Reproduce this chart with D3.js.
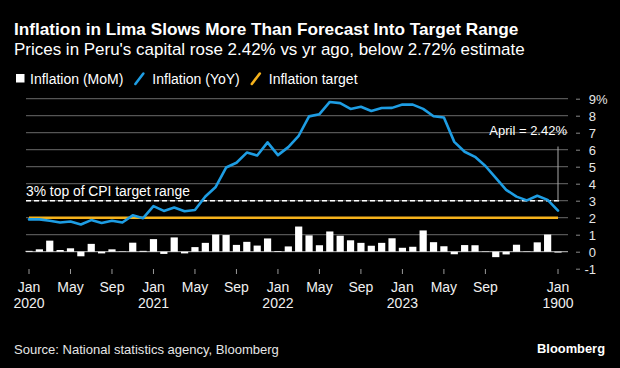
<!DOCTYPE html>
<html><head><meta charset="utf-8">
<script src="https://cdn.jsdelivr.net/npm/d3@7"></script>
<style>body{margin:0;background:#000}svg{display:block}</style>
</head><body>
<svg id="c" width="620" height="368"></svg>
<script>
// ---- data ----
const months = [
 "2020-01","2020-02","2020-03","2020-04","2020-05","2020-06","2020-07","2020-08","2020-09","2020-10","2020-11","2020-12",
 "2021-01","2021-02","2021-03","2021-04","2021-05","2021-06","2021-07","2021-08","2021-09","2021-10","2021-11","2021-12",
 "2022-01","2022-02","2022-03","2022-04","2022-05","2022-06","2022-07","2022-08","2022-09","2022-10","2022-11","2022-12",
 "2023-01","2023-02","2023-03","2023-04","2023-05","2023-06","2023-07","2023-08","2023-09","2023-10","2023-11","2023-12",
 "2024-01","2024-02","2024-03","2024-04"];
const yoy = [
 1.90,1.90,1.82,1.72,1.78,1.60,1.86,1.69,1.82,1.72,2.14,1.97,
 2.68,2.40,2.60,2.38,2.45,3.25,3.81,4.95,5.23,5.83,5.66,6.43,
 5.68,6.15,6.82,7.96,8.09,8.81,8.74,8.40,8.53,8.28,8.45,8.46,
 8.66,8.65,8.40,7.97,7.89,6.46,5.88,5.58,5.04,4.34,3.64,3.24,
 3.02,3.29,3.05,2.42];
const mom = [
 0.05,0.14,0.65,0.10,0.20,-0.27,0.46,-0.10,0.14,0.02,0.53,0.05,
 0.74,-0.13,0.84,-0.10,0.27,0.52,1.01,0.98,0.40,0.58,0.36,0.78,
 0.04,0.31,1.48,0.96,0.38,1.19,0.94,0.67,0.52,0.35,0.52,0.79,
 0.23,0.29,1.25,0.56,0.32,-0.15,0.39,0.38,0.02,-0.32,-0.16,0.41,
 0.02,0.55,1.01,-0.05];
const targetValue = 2;
const rangeTopValue = 3;
const yTickValues = [-1,0,1,2,3,4,5,6,7,8,9];
const xTickMonths = ["2020-01","2020-05","2020-09","2021-01","2021-05","2021-09","2022-01","2022-05","2022-09","2023-01","2023-05","2023-09","2024-04"];
const xTickLabels = ["Jan","May","Sep","Jan","May","Sep","Jan","May","Sep","Jan","May","Sep","Jan"];
const xTickYears  = ["2020","","","2021","","","2022","","","2023","","","1900"];
const legendLabels = ["Inflation (MoM)","Inflation (YoY)","Inflation target"];

// ---- drawing ----
const FONT = "'Liberation Sans', Arial, Helvetica, sans-serif";
const BLUE = "#1e9de3", YELLOW = "#f5b21c", GRID = "#555";
const svg = d3.select("#c").style("font-family", FONT);
svg.append("rect").attr("width",620).attr("height",368).attr("fill","#000");

const x = d3.scalePoint().domain(months).range([29, 558]);
const y = d3.scaleLinear().domain([-1, 9]).range([268.7, 98.7]);
const gridX0 = 26, gridX1 = 568;

function fit(sel, w){
  const l = sel.node().getComputedTextLength();
  const fs = parseFloat(sel.attr("font-size"));
  sel.attr("font-size", (fs*w/l).toFixed(2));
  return sel;
}

// title / subtitle
fit(svg.append("text").attr("x",14).attr("y",35).attr("fill","#fff").attr("font-weight","bold")
  .attr("font-size",17).text("Inflation in Lima Slows More Than Forecast Into Target Range"), 505);
fit(svg.append("text").attr("x",14).attr("y",55).attr("fill","#fff")
  .attr("font-size",16).text("Prices in Peru's capital rose 2.42% vs yr ago, below 2.72% estimate"), 511);

// legend
const lg = svg.append("g");
let lx = 16;
legendLabels.forEach((lab,i)=>{
  if(i===0){
    lg.append("rect").attr("x",lx).attr("y",74).attr("width",8.5).attr("height",8.5).attr("fill","#fff");
    lx += 14;
  } else {
    lg.append("line").attr("x1",lx+1).attr("y1",84).attr("x2",lx+9).attr("y2",73.5)
      .attr("stroke", i===1?BLUE:YELLOW).attr("stroke-width",2.6).attr("stroke-linecap","round");
    lx += 18;
  }
  const t = lg.append("text").attr("x",lx).attr("y",83.5).attr("fill","#fff").attr("font-size",14).text(lab);
  lx += t.node().getComputedTextLength() + 11;
});

// gridlines
svg.append("g").selectAll("line").data(yTickValues.filter(v=>v>=0)).join("line")
  .attr("x1",gridX0).attr("x2",gridX1).attr("y1",d=>y(d)).attr("y2",d=>y(d))
  .attr("stroke",d=>d===0?"#9a9a9a":GRID).attr("stroke-width",1.2);

// y axis (right)
const yAxis = d3.axisRight(y).tickValues(yTickValues).tickSize(4).tickPadding(0).tickFormat(d=>d);
const ya = svg.append("g").attr("transform","translate(576,0)").call(yAxis);
ya.select(".domain").remove();
ya.selectAll(".tick line").attr("stroke","#888");
ya.selectAll(".tick text").attr("x",20).attr("text-anchor","end").attr("fill","#e6e6e6")
  .attr("font-size",13).attr("font-family",FONT).attr("dy","0.36em");
ya.selectAll(".tick").filter(d=>d===9).append("text").attr("x",20).attr("dy","0.36em")
  .attr("fill","#e6e6e6").attr("font-size",13).attr("font-family",FONT).text("%");

// bars
svg.append("g").selectAll("rect").data(months.map((m,i)=>({m, v:mom[i]}))).join("rect")
  .attr("x",d=>x(d.m)-3.6).attr("width",7.2)
  .attr("y",d=>y(Math.max(0,d.v))).attr("height",d=>Math.abs(y(d.v)-y(0)))
  .attr("fill","#fff");

// target line
svg.append("line").attr("x1",x(months[0])).attr("x2",x(months[months.length-1]))
  .attr("y1",y(targetValue)).attr("y2",y(targetValue))
  .attr("stroke",YELLOW).attr("stroke-width",2.6);

// 3% dashed line
svg.append("line").attr("x1",gridX0).attr("x2",560)
  .attr("y1",y(rangeTopValue)).attr("y2",y(rangeTopValue))
  .attr("stroke","#fff").attr("stroke-width",1.5).attr("stroke-dasharray","5,3");
fit(svg.append("text").attr("x",gridX0).attr("y",y(rangeTopValue)-4.5).attr("fill","#fff")
  .attr("font-size",13).text("3% top of CPI target range"), 164);

// YoY line
svg.append("path").datum(months.map((m,i)=>({m, v:yoy[i]})))
  .attr("fill","none").attr("stroke",BLUE).attr("stroke-width",2.6)
  .attr("stroke-linejoin","round").attr("stroke-linecap","round")
  .attr("d", d3.line().x(d=>x(d.m)).y(d=>y(d.v)));

// annotation
const lastM = months[months.length-1];
svg.append("line").attr("x1",x(lastM)).attr("x2",x(lastM)).attr("y1",146.5).attr("y2",y(rangeTopValue))
  .attr("stroke","#aaa").attr("stroke-width",1);
svg.append("text").attr("x",567).attr("y",135).attr("text-anchor","end").attr("fill","#fff")
  .attr("font-size",13).text("April = " + yoy[yoy.length-1].toFixed(2) + "%");

// x axis
const xg = svg.append("g");
xTickMonths.forEach((m,i)=>{
  const px = x(m);
  xg.append("line").attr("x1",px).attr("x2",px).attr("y1",269).attr("y2",274).attr("stroke","#999").attr("stroke-width",1);
  xg.append("text").attr("x",px).attr("y",291.5).attr("text-anchor","middle").attr("fill","#f0f0f0")
    .attr("font-size",14).text(xTickLabels[i]);
  if(xTickYears[i]) xg.append("text").attr("x",px).attr("y",308).attr("text-anchor","middle").attr("fill","#f0f0f0")
    .attr("font-size",14).text(xTickYears[i]);
});

// footer
fit(svg.append("text").attr("x",14).attr("y",354).attr("fill","#e6e6e6")
  .attr("font-size",13.5).text("Source: National statistics agency, Bloomberg"), 265);
fit(svg.append("text").attr("x",605).attr("y",353).attr("text-anchor","end").attr("fill","#fff").attr("font-weight","bold")
  .attr("font-size",14).text("Bloomberg"), 68);
</script>
</body></html>
